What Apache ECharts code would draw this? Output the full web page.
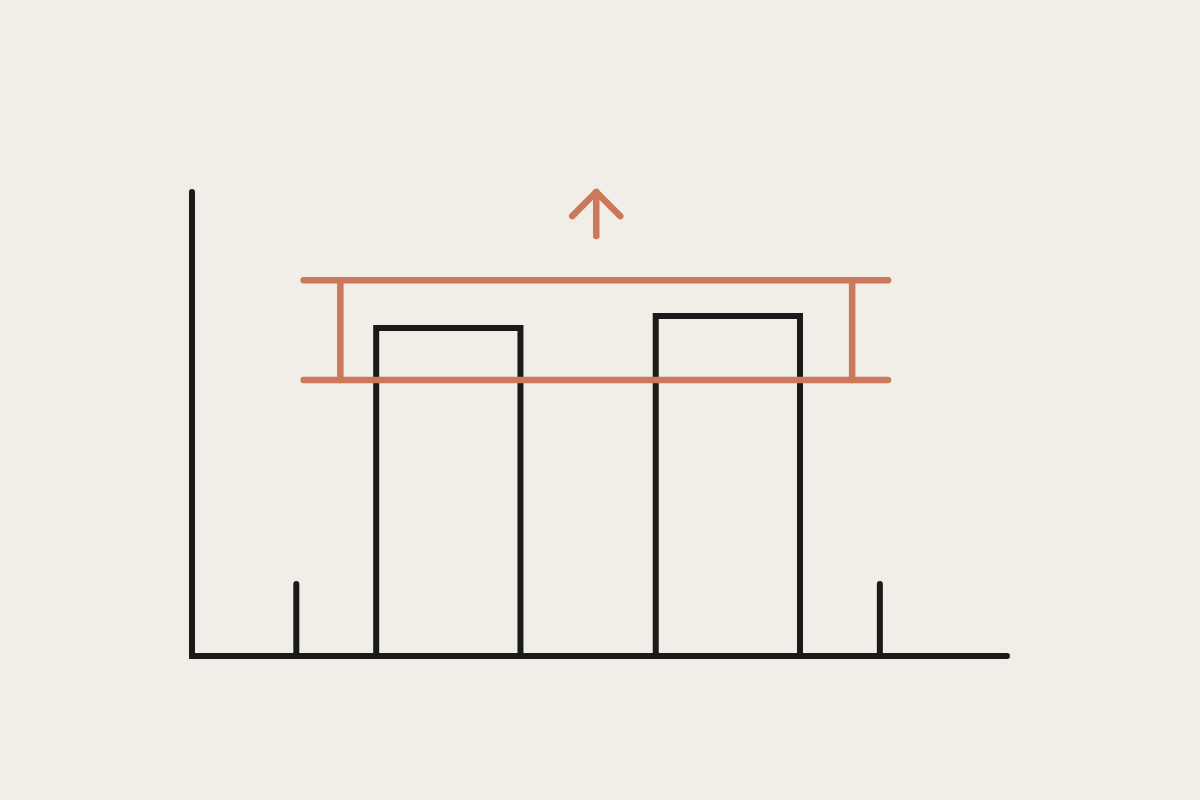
<!DOCTYPE html>
<html>
<head>
<meta charset="utf-8">
<script src="https://cdn.jsdelivr.net/npm/echarts@6/dist/echarts.min.js"></script>
<style>
  html, body { margin: 0; padding: 0; background: #F0EEE6; }
  #chart { width: 1200px; height: 800px; }
</style>
</head>
<body>
<div id="chart"></div>
<script>
// ---- data (chart units: x 0..100, y 0..100) ----
const axisMax = [100, 100];
const barNames = ['Bar A', 'Bar B'];
const barLeft = [22.6, 56.9];
const barRight = [40.3, 74.6];
const barValues = [70.7, 73.3];
const tickPositions = [12.8, 84.4];
const tickValues = [15.5, 15.5];
const bandRange = [59.5, 81.0];      // low, high
const bandExtent = [13.7, 85.4];     // left, right
const bandPosts = [18.2, 81.0];
const arrowX = 49.6;
const arrowShaft = [90.5, 100];      // base, tip
const arrowWingY = 94.8;
const arrowHalfWidth = 2.95;

const INK = '#1A1A19';
const CLAY = '#CC785C';

function polySeries(name, items, nPoints, color, width, join, z) {
  return {
    type: 'custom',
    name: name,
    coordinateSystem: 'cartesian2d',
    clip: false,
    z: z,
    silent: true,
    encode: { x: 0, y: 1 },
    data: items,
    renderItem: function (params, api) {
      const pts = [];
      for (let i = 0; i < nPoints; i++) {
        pts.push(api.coord([api.value(2 * i), api.value(2 * i + 1)]));
      }
      return {
        type: 'polyline',
        shape: { points: pts },
        style: { stroke: color, lineWidth: width, fill: null, lineCap: 'round', lineJoin: join }
      };
    }
  };
}

const axesItems = [[0, axisMax[1], 0, 0, axisMax[0], 0]];
const tickItems = tickPositions.map((x, i) => [x, 0, x, tickValues[i]]);
const barItems = barNames.map((n, i) => [barLeft[i], 0, barLeft[i], barValues[i], barRight[i], barValues[i], barRight[i], 0]);
const bandLineItems = [
  [bandExtent[0], bandRange[0], bandExtent[1], bandRange[0]],
  [bandExtent[0], bandRange[1], bandExtent[1], bandRange[1]],
  [bandPosts[0], bandRange[0], bandPosts[0], bandRange[1]],
  [bandPosts[1], bandRange[0], bandPosts[1], bandRange[1]],
  [arrowX, arrowShaft[0], arrowX, arrowShaft[1]]
];
const arrowHeadItems = [[arrowX - arrowHalfWidth, arrowWingY, arrowX, arrowShaft[1], arrowX + arrowHalfWidth, arrowWingY]];

const chart = echarts.init(document.getElementById('chart'));
chart.setOption({
  backgroundColor: '#F0EEE6',
  animation: false,
  grid: { left: 192, right: 193, top: 192, bottom: 144 },
  xAxis: { type: 'value', min: 0, max: axisMax[0], show: false },
  yAxis: { type: 'value', min: 0, max: axisMax[1], show: false },
  series: [
    polySeries('axes', axesItems, 3, INK, 6, 'miter', 2),
    polySeries('ticks', tickItems, 2, INK, 6, 'miter', 2),
    polySeries('bars', barItems, 4, INK, 6, 'miter', 3),
    polySeries('band', bandLineItems, 2, CLAY, 6.5, 'round', 4),
    polySeries('arrowhead', arrowHeadItems, 3, CLAY, 6.5, 'round', 4)
  ]
});
</script>
</body>
</html>
